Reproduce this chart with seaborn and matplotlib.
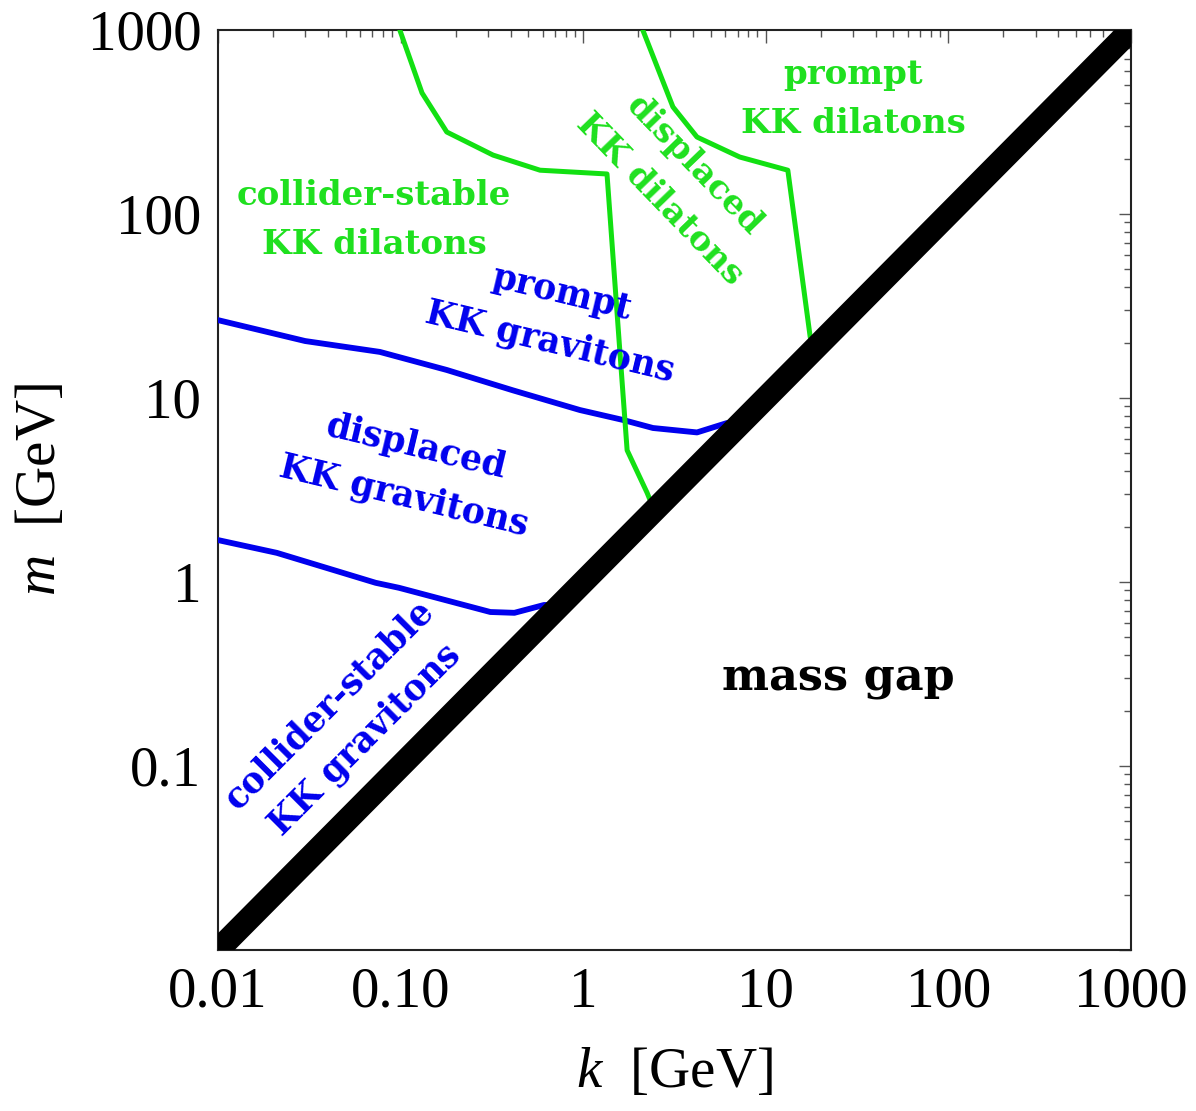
import numpy as np
import pandas as pd
import matplotlib
matplotlib.use("Agg")
import matplotlib.pyplot as plt
import seaborn as sns
from matplotlib.ticker import LogLocator, FixedLocator, FixedFormatter, NullFormatter

# Lifetime boundaries in the (k, m) plane
grav_prompt_k = [0.01, 0.03, 0.077, 0.179, 0.413, 0.96, 1.65, 2.41, 4.2, 6.1, 7.5]
grav_prompt_m = [26.5, 20.4, 17.8, 14.2, 11.0, 8.6, 7.6, 6.87, 6.5, 7.3, 7.5]

grav_stable_k = [0.01, 0.021, 0.073, 0.098, 0.31, 0.42, 0.61, 0.75]
grav_stable_m = [1.69, 1.44, 0.99, 0.93, 0.687, 0.68, 0.75, 0.75]

dil_stable_k = [0.099, 0.131, 0.179, 0.321, 0.58, 1.35, 1.59, 1.74, 2.24, 2.45]
dil_stable_m = [1000, 455, 279, 209, 173, 165, 17.6, 5.2, 3.05, 2.45]

dil_prompt_k = [2.12, 3.1, 4.2, 7.2, 13.2, 17.5, 18.5]
dil_prompt_m = [1000, 382, 262, 204, 173, 21.5, 18.5]

gap_k = [0.01, 1000]
gap_m = [0.01, 1000]

x_ticks = [0.01, 0.1, 1, 10, 100, 1000]
x_tick_labels = ["0.01", "0.10", "1", "10", "100", "1000"]
y_ticks = [0.1, 1, 10, 100, 1000]
y_tick_labels = ["0.1", "1", "10", "100", "1000"]

GREEN = "#12e012"
GREEN_TXT = "#1fe01f"
BLUE = "#0000ee"

sns.set_theme(style="white")
plt.rcParams["font.family"] = ["Liberation Serif", "DejaVu Serif"]
plt.rcParams["mathtext.fontset"] = "custom"
plt.rcParams["mathtext.it"] = "Liberation Serif:italic"
plt.rcParams["mathtext.rm"] = "Liberation Serif"
plt.rcParams["text.color"] = "black"
plt.rcParams["axes.labelcolor"] = "black"
plt.rcParams["xtick.color"] = "black"
plt.rcParams["ytick.color"] = "black"

fig = plt.figure(figsize=(11.96, 11.11), dpi=100)
ax = fig.add_axes([218 / 1196, 1 - 950 / 1111, (1131 - 218) / 1196, (950 - 30) / 1111])

def curve(k, m, color, lw, z):
    df = pd.DataFrame({"k": k, "m": m})
    sns.lineplot(data=df, x="k", y="m", sort=False, estimator=None,
                 color=color, linewidth=lw, ax=ax, zorder=z)

curve(grav_prompt_k, grav_prompt_m, BLUE, 4.2, 3)
curve(grav_stable_k, grav_stable_m, BLUE, 4.2, 3)
curve(dil_stable_k, dil_stable_m, GREEN, 3.6, 3)
curve(dil_prompt_k, dil_prompt_m, GREEN, 3.6, 3)
curve(gap_k, gap_m, "black", 17, 5)

ax.set_xscale("log")
ax.set_yscale("log")
ax.set_xlim(0.01, 1000)
ax.set_ylim(0.01, 1000)

ax.xaxis.set_major_locator(FixedLocator(x_ticks))
ax.xaxis.set_major_formatter(FixedFormatter(x_tick_labels))
ax.yaxis.set_major_locator(FixedLocator(y_ticks + [0.01]))
ax.yaxis.set_major_formatter(FixedFormatter(y_tick_labels + [""]))
for a in (ax.xaxis, ax.yaxis):
    a.set_minor_locator(LogLocator(base=10, subs=np.arange(2, 10), numticks=20))
    a.set_minor_formatter(NullFormatter())

ax.tick_params(which="both", direction="in", top=True, right=True,
               color="#555555", width=1.0, labelcolor="black")
ax.tick_params(which="major", length=9, labelsize=41, pad=12)
ax.tick_params(which="minor", length=5)
for lab in ax.get_xticklabels() + ax.get_yticklabels():
    lab.set_family("Liberation Serif")
for s in ax.spines.values():
    s.set_color("#222222")
    s.set_linewidth(1.5)

ax.set_xlabel(r"$k$  [GeV]", fontsize=41, family="Liberation Serif", color="black")
ax.set_ylabel(r"$m$  [GeV]", fontsize=41, family="Liberation Serif", color="black")
ax.xaxis.set_label_coords(0.5, -0.105)
ax.yaxis.set_label_coords(-0.165, 0.5)

tfont = dict(family="DejaVu Serif", fontweight="bold", ha="center", va="center",
             linespacing=1.6)

def place(px, py, s, color, size, rot=0):
    x = (px - 218) / 913
    y = 1 - (py - 30) / 920
    ax.text(x, y, s, transform=ax.transAxes, color=color, fontsize=size,
            rotation=rot, rotation_mode="anchor", zorder=6, **tfont)

place(374, 220, "collider-stable\nKK dilatons", GREEN_TXT, 24.5)
place(853, 99, "prompt\nKK dilatons", GREEN_TXT, 24.5)
place(677, 182, "displaced\nKK dilatons", GREEN_TXT, 24.5, -46)
place(556, 318, "prompt\nKK gravitons", BLUE, 25, -13.5)
place(410, 472, "displaced\nKK gravitons", BLUE, 25, -13.5)
place(347, 722, "collider-stable\nKK gravitons", BLUE, 25, 45)
place(838, 678, "mass gap", "black", 32)

fig.savefig("out.png", dpi=100, facecolor="white")
